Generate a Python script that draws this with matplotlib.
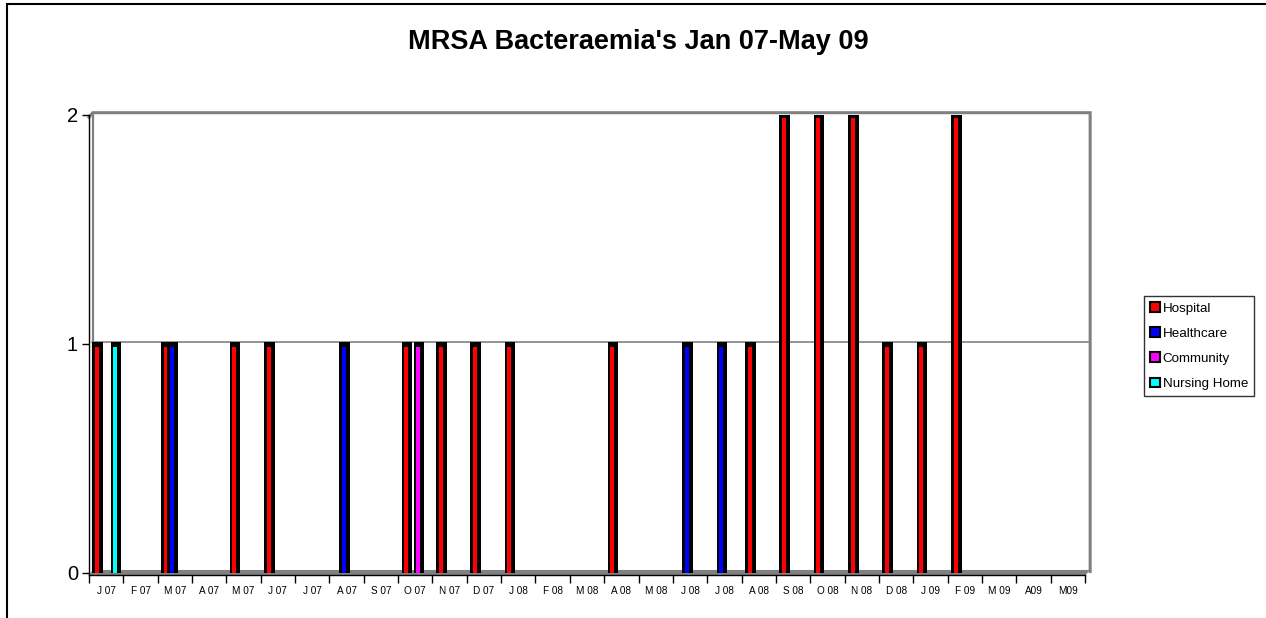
import numpy as np
import matplotlib.pyplot as plt
from matplotlib.patches import Patch, Rectangle, Polygon

plt.rcParams['font.family'] = ['Liberation Sans', 'DejaVu Sans']

# Monthly MRSA bacteraemia counts by source
months = ['J 07', 'F 07', 'M 07', 'A 07', 'M 07', 'J 07', 'J 07', 'A 07', 'S 07', 'O 07',
          'N 07', 'D 07', 'J 08', 'F 08', 'M 08', 'A 08', 'M 08', 'J 08', 'J 08', 'A 08',
          'S 08', 'O 08', 'N 08', 'D 08', 'J 09', 'F 09', 'M 09', 'A09', 'M09']
hospital = [1, 0, 1, 0, 1, 1, 0, 0, 0, 1, 1, 1, 1, 0, 0, 1, 0, 0, 0, 1,
            2, 2, 2, 1, 1, 2, 0, 0, 0]
healthcare = [0, 0, 1, 0, 0, 0, 0, 1, 0, 0, 0, 0, 0, 0, 0, 0, 0, 1, 1, 0,
              0, 0, 0, 0, 0, 0, 0, 0, 0]
community = [0, 0, 0, 0, 0, 0, 0, 0, 0, 1, 0, 0, 0, 0, 0, 0, 0, 0, 0, 0,
             0, 0, 0, 0, 0, 0, 0, 0, 0]
nursing_home = [1, 0, 0, 0, 0, 0, 0, 0, 0, 0, 0, 0, 0, 0, 0, 0, 0, 0, 0, 0,
                0, 0, 0, 0, 0, 0, 0, 0, 0]

series_names = ['Hospital', 'Healthcare', 'Community', 'Nursing Home']
series_colors = ['#FF0000', '#0000FF', '#FF00FF', '#00FFFF']
series_values = [hospital, healthcare, community, nursing_home]

W, H = 1266, 618
fig = plt.figure(figsize=(W / 100, H / 100), dpi=100)
fig.patch.set_facecolor('white')

# outer chart frame (only top and left edges fall inside the image)
fig.add_artist(Rectangle((7 / W, -0.1), 1.2, 1 - 4 / H + 0.1, transform=fig.transFigure,
                         fill=False, edgecolor='black', linewidth=1.5))

ax = fig.add_axes([89 / W, 1 - 575 / H, (1085 - 89) / W, (575 - 115) / H])
n = len(months)
ax.set_xlim(0, n)
ax.set_ylim(-0.01, 2.0)

gray = '#808080'
# back wall, floor and gridline of the 3-D plot area
ax.plot([0.09, 29.15], [1.01, 1.01], color=gray, lw=1.2, clip_on=False, zorder=1)
ax.plot([0.0, 0.11, 29.15, 29.15], [1.99, 2.01, 2.01, 0.005], color=gray, lw=2.2,
        clip_on=False, zorder=1, solid_joinstyle='miter')
ax.plot([0.11, 0.11], [2.01, 0.005], color=gray, lw=1.6, clip_on=False, zorder=1)
ax.add_patch(Polygon([[0.0, -0.01], [0.11, 0.012], [29.15, 0.012], [29.02, -0.01]],
                     closed=True, facecolor=gray, edgecolor='none', clip_on=False, zorder=1))

x = np.arange(n)
for s, (vals, col) in enumerate(zip(series_values, series_colors)):
    vals = np.array(vals, dtype=float)
    shown = vals > 0
    centre = x + 0.235 + 0.178 * s
    ax.bar(centre[shown] + 0.02, vals[shown] + 0.006, width=0.31, color='black',
           edgecolor='none', zorder=3 + 2 * s)
    ax.bar(centre[shown], vals[shown] - 0.013, width=0.116, color=col,
           edgecolor='none', zorder=4 + 2 * s)

for side in ['top', 'right']:
    ax.spines[side].set_visible(False)
ax.spines['left'].set_linewidth(1.0)
ax.spines['bottom'].set_linewidth(1.0)
ax.set_facecolor('none')

ax.set_yticks([0, 1, 2])
ax.set_yticklabels(['0', '1', '2'], fontsize=14.5)
ax.tick_params(axis='y', length=5, width=1, pad=3)
ax.set_xticks(np.arange(n + 1))
ax.set_xticklabels([])
ax.set_xticks(x + 0.5, minor=True)
ax.set_xticklabels(months, minor=True, fontsize=7.2)
ax.tick_params(axis='x', which='major', length=6, width=1)
ax.tick_params(axis='x', which='minor', length=0, pad=8)

fig.text(638 / W, 1 - 42 / H, "MRSA Bacteraemia's Jan 07-May 09", ha='center', va='center',
         fontsize=19.5, fontweight='bold')

handles = [Patch(facecolor=c, edgecolor='black', linewidth=1.5) for c in series_colors]
leg = fig.legend(handles, series_names, loc='upper left',
                 bbox_to_anchor=(1144 / W, 1 - 296 / H), fontsize=9.6, frameon=True,
                 fancybox=False, edgecolor='black', handlelength=0.75, handleheight=0.75,
                 handletextpad=0.2, labelspacing=0.95, borderpad=0.45, borderaxespad=0)
leg.get_frame().set_linewidth(1.0)

fig.savefig('out.png', dpi=100)
